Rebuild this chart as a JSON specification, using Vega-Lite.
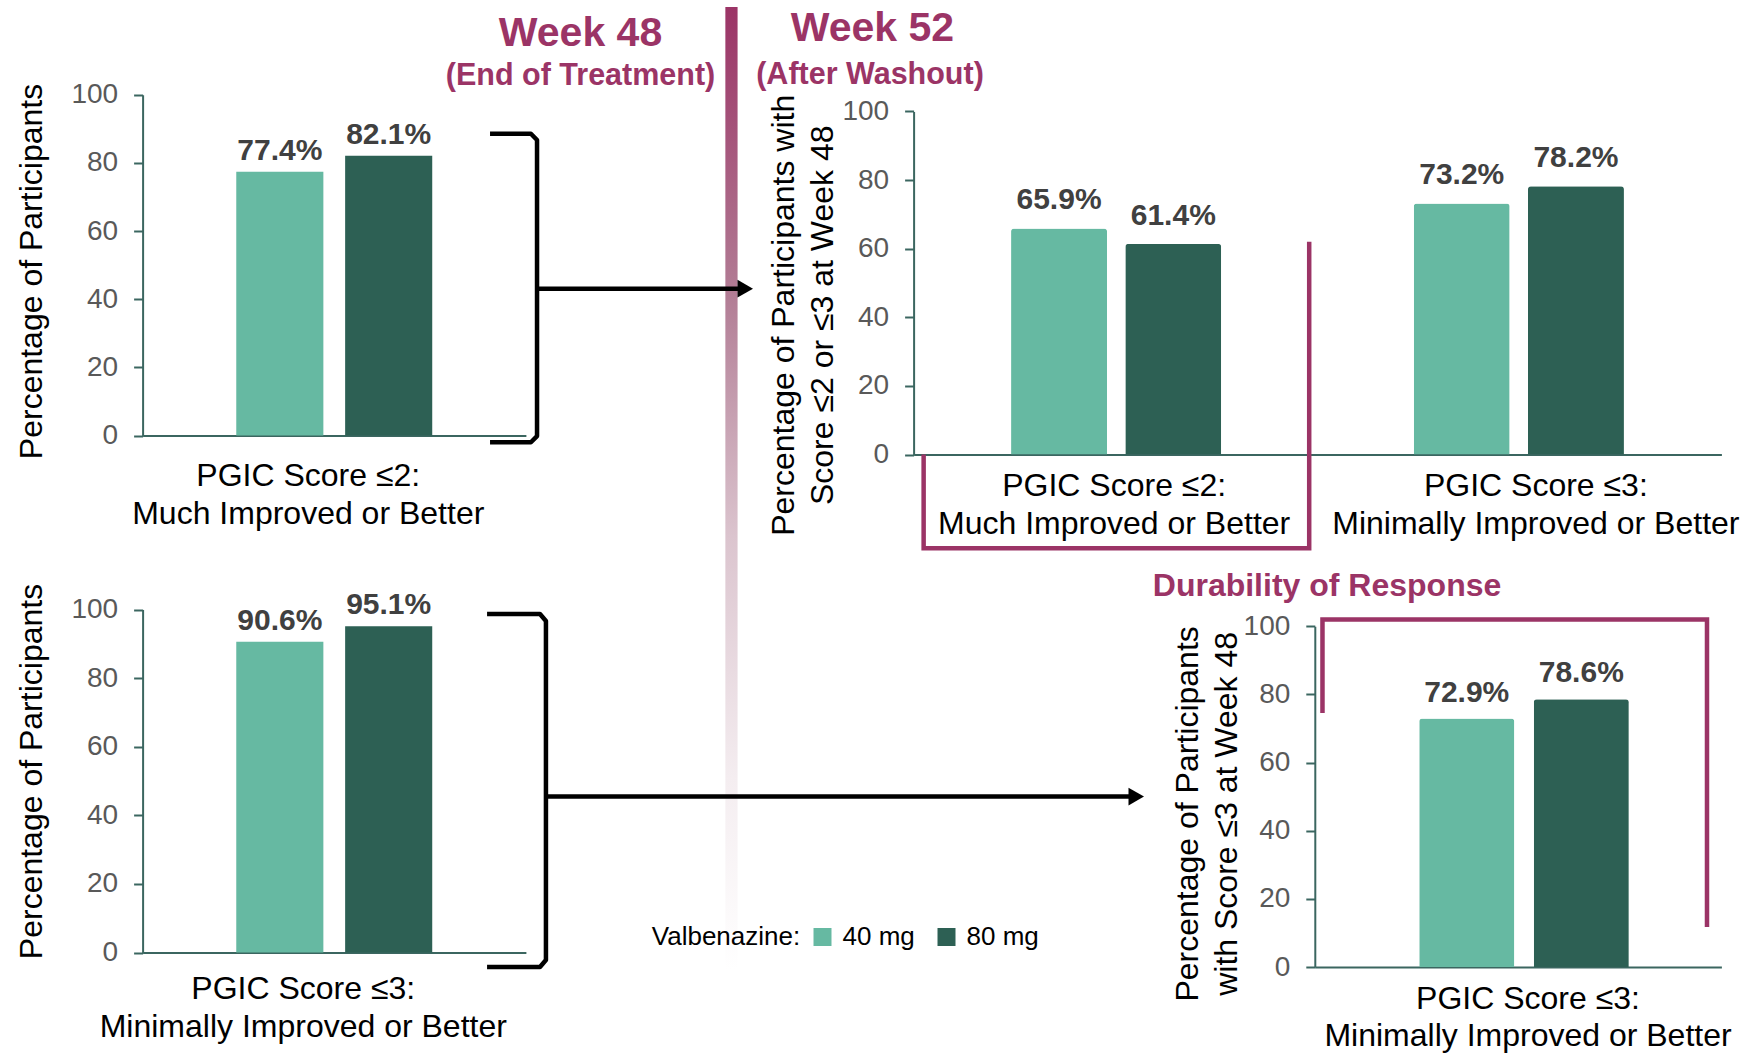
{
  "$schema": "https://vega.github.io/schema/vega-lite/v6.json",
  "width": 1747,
  "height": 1053,
  "autosize": {"type": "none"},
  "padding": 0,
  "background": "#ffffff",
  "config": {
    "view": {"stroke": null},
    "font": "Liberation Sans",
    "axis": {
      "grid": false,
      "domainColor": "#3B6660",
      "domainWidth": 2,
      "tickColor": "#3B6660",
      "tickWidth": 2,
      "labelFont": "Liberation Sans",
      "titleFont": "Liberation Sans",
      "titleFontWeight": "normal",
      "titleColor": "#000000",
      "labelLimit": 1000,
      "titleLimit": 1000,
      "labelOverlap": false
    },
    "axisX": {"ticks": false, "tickSize": 0, "labelAngle": 0, "labelFontSize": 32, "labelColor": "#000000", "labelLineHeight": 38, "labelBaseline": "top"},
    "axisY": {"tickSize": 9, "labelFontSize": 28, "labelColor": "#595959", "labelPadding": 16, "titleFontSize": 32, "titleAngle": -90, "titleBaseline": "middle", "titleAlign": "center", "titleLineHeight": 39}
  },
  "datasets": {
    "results": [
      {"panel": "wk48_le2", "group": "PGIC Score ≤2:|Much Improved or Better", "dose": "40 mg", "pct": 77.4},
      {"panel": "wk48_le2", "group": "PGIC Score ≤2:|Much Improved or Better", "dose": "80 mg", "pct": 82.1},
      {"panel": "wk48_le3", "group": "PGIC Score ≤3:|Minimally Improved or Better", "dose": "40 mg", "pct": 90.6},
      {"panel": "wk48_le3", "group": "PGIC Score ≤3:|Minimally Improved or Better", "dose": "80 mg", "pct": 95.1},
      {"panel": "wk52", "group": "PGIC Score ≤2:|Much Improved or Better", "dose": "40 mg", "pct": 65.9},
      {"panel": "wk52", "group": "PGIC Score ≤2:|Much Improved or Better", "dose": "80 mg", "pct": 61.4},
      {"panel": "wk52", "group": "PGIC Score ≤3:|Minimally Improved or Better", "dose": "40 mg", "pct": 73.2},
      {"panel": "wk52", "group": "PGIC Score ≤3:|Minimally Improved or Better", "dose": "80 mg", "pct": 78.2},
      {"panel": "durability", "group": "PGIC Score ≤3:|Minimally Improved or Better", "dose": "40 mg", "pct": 72.9},
      {"panel": "durability", "group": "PGIC Score ≤3:|Minimally Improved or Better", "dose": "80 mg", "pct": 78.6}
    ],
    "divider": [{"x": 41.52, "x2": 42.22, "y": 0.66, "y2": 92.12}],
    "brackets": [
      {"path": "wk48_le2", "step": 1, "x": 28.05, "y": 12.70},
      {"path": "wk48_le2", "step": 2, "x": 30.39, "y": 12.70},
      {"path": "wk48_le2", "step": 3, "x": 30.74, "y": 13.30},
      {"path": "wk48_le2", "step": 4, "x": 30.74, "y": 41.41},
      {"path": "wk48_le2", "step": 5, "x": 30.39, "y": 42.00},
      {"path": "wk48_le2", "step": 6, "x": 28.05, "y": 42.00},
      {"path": "wk48_le3", "step": 1, "x": 27.88, "y": 58.31},
      {"path": "wk48_le3", "step": 2, "x": 30.91, "y": 58.31},
      {"path": "wk48_le3", "step": 3, "x": 31.25, "y": 58.97},
      {"path": "wk48_le3", "step": 4, "x": 31.25, "y": 91.17},
      {"path": "wk48_le3", "step": 5, "x": 30.91, "y": 91.83},
      {"path": "wk48_le3", "step": 6, "x": 27.88, "y": 91.83},
      {"path": "to_wk52", "step": 1, "x": 30.74, "y": 27.41},
      {"path": "to_wk52", "step": 2, "x": 42.66, "y": 27.41},
      {"path": "to_durability", "step": 1, "x": 31.25, "y": 75.65},
      {"path": "to_durability", "step": 2, "x": 65.04, "y": 75.65}
    ],
    "arrowheads": [
      {"x": 42.66, "y": 27.41},
      {"x": 65.04, "y": 75.65}
    ],
    "frames": [
      {"path": "wk52_le2", "step": 1, "x": 52.87, "y": 43.17},
      {"path": "wk52_le2", "step": 2, "x": 52.87, "y": 52.06},
      {"path": "wk52_le2", "step": 3, "x": 74.94, "y": 52.06},
      {"path": "wk52_le2", "step": 4, "x": 74.94, "y": 22.96},
      {"path": "durability", "step": 1, "x": 75.70, "y": 67.71},
      {"path": "durability", "step": 2, "x": 75.70, "y": 58.83},
      {"path": "durability", "step": 3, "x": 97.71, "y": 58.83},
      {"path": "durability", "step": 4, "x": 97.71, "y": 88.03}
    ],
    "headings": [
      {"role": "week", "text": "Week 48", "x": 33.23, "y": 4.34},
      {"role": "week", "text": "Week 52", "x": 49.94, "y": 3.92},
      {"role": "phase", "text": "(End of Treatment)", "x": 33.23, "y": 8.04},
      {"role": "phase", "text": "(After Washout)", "x": 49.80, "y": 7.94},
      {"role": "section", "text": "Durability of Response", "x": 75.96, "y": 56.60},
      {"role": "lead", "text": "Valbenazine:", "x": 37.31, "y": 89.70}
    ]
  },
  "layer": [
    {
      "encoding": {
        "x": {"field": "x", "type": "quantitative", "scale": {"domain": [0, 100], "range": [0, 1747], "nice": false, "zero": false}, "axis": null},
        "y": {"field": "y", "type": "quantitative", "scale": {"domain": [0, 100], "range": [0, 1053], "nice": false, "zero": false}, "axis": null}
      },
      "layer": [
        {
          "data": {"name": "divider"},
          "mark": {
            "type": "rect",
            "color": {
              "gradient": "linear", "x1": 0, "y1": 0, "x2": 0, "y2": 1,
              "stops": [
                {"offset": 0, "color": "#9B3466"},
                {"offset": 0.3, "color": "#B27D95"},
                {"offset": 0.55, "color": "#DBC4CE"},
                {"offset": 0.8, "color": "#F4EDF0"},
                {"offset": 1, "color": "#FFFFFF"}
              ]
            }
          },
          "encoding": {"x2": {"field": "x2"}, "y2": {"field": "y2"}}
        },
        {
          "data": {"name": "brackets"},
          "mark": {"type": "line", "color": "#000000", "strokeWidth": 4.5, "strokeCap": "butt", "strokeJoin": "round"},
          "encoding": {"detail": {"field": "path", "type": "nominal"}, "order": {"field": "step", "type": "quantitative"}}
        },
        {
          "data": {"name": "frames"},
          "mark": {"type": "line", "color": "#9B3466", "strokeWidth": 4.5, "strokeCap": "butt", "strokeJoin": "miter"},
          "encoding": {"detail": {"field": "path", "type": "nominal"}, "order": {"field": "step", "type": "quantitative"}}
        },
        {
          "data": {"name": "arrowheads"},
          "mark": {"type": "point", "shape": "triangle-right", "size": 320, "filled": true, "color": "#000000", "opacity": 1, "strokeWidth": 0}
        },
        {
          "data": {"name": "headings"},
          "transform": [{"filter": "datum.role === 'week'"}],
          "mark": {"type": "text", "fontSize": 41, "fontWeight": "bold", "color": "#9B3466", "align": "center", "baseline": "alphabetic"},
          "encoding": {"text": {"field": "text"}}
        },
        {
          "data": {"name": "headings"},
          "transform": [{"filter": "datum.role === 'phase'"}],
          "mark": {"type": "text", "fontSize": 30.5, "fontWeight": "bold", "color": "#9B3466", "align": "center", "baseline": "alphabetic"},
          "encoding": {"text": {"field": "text"}}
        },
        {
          "data": {"name": "headings"},
          "transform": [{"filter": "datum.role === 'section'"}],
          "mark": {"type": "text", "fontSize": 32, "fontWeight": "bold", "color": "#9B3466", "align": "center", "baseline": "alphabetic"},
          "encoding": {"text": {"field": "text"}}
        },
        {
          "data": {"name": "headings"},
          "transform": [{"filter": "datum.role === 'lead'"}],
          "mark": {"type": "text", "fontSize": 26, "color": "#000000", "align": "left", "baseline": "alphabetic"},
          "encoding": {"text": {"field": "text"}}
        }
      ]
    },
    {
      "data": {"name": "results"},
      "transform": [{"filter": "datum.panel === 'wk48_le2'"}],
      "encoding": {
        "x": {"field": "group", "type": "nominal", "sort": null, "title": null,
          "scale": {"range": [142.6, 525.9], "paddingInner": 0, "paddingOuter": 0.478},
          "axis": {"orient": "bottom", "offset": -617.4, "labelExpr": "split(datum.label, '|')", "labelPadding": 25, "labelOffset": -26}},
        "xOffset": {"field": "dose", "type": "nominal", "scale": {"paddingInner": 0.2, "paddingOuter": 0}},
        "y": {"field": "pct", "type": "quantitative",
          "scale": {"domain": [0, 100], "range": [435.6, 94.7], "nice": false},
          "axis": {"orient": "left", "offset": -142.6, "values": [0, 20, 40, 60, 80, 100], "title": "Percentage of Participants", "titleX": -111.6, "titleY": 271}}
      },
      "layer": [
        {
          "mark": {"type": "bar"},
          "encoding": {
            "color": {"field": "dose", "type": "nominal",
              "scale": {"domain": ["40 mg", "80 mg"], "range": ["#66B9A2", "#2D6054"]},
              "legend": {"title": null, "orient": "none", "legendX": 809.5, "legendY": 924, "direction": "horizontal", "symbolType": "square", "symbolSize": 324, "symbolStrokeWidth": 0, "symbolOpacity": 1, "labelFontSize": 26, "labelColor": "#000000", "labelOffset": 7, "columnPadding": 18, "padding": 0}}
          }
        },
        {
          "mark": {"type": "text", "baseline": "alphabetic", "align": "center", "dy": -12, "fontSize": 30, "fontWeight": "bold", "color": "#404040", "text": {"expr": "format(datum.pct, '.1f') + '%'"}}
        }
      ]
    },
    {
      "data": {"name": "results"},
      "transform": [{"filter": "datum.panel === 'wk48_le3'"}],
      "encoding": {
        "x": {"field": "group", "type": "nominal", "sort": null, "title": null,
          "scale": {"range": [142.6, 525.9], "paddingInner": 0, "paddingOuter": 0.478},
          "axis": {"orient": "bottom", "offset": -100.4, "labelExpr": "split(datum.label, '|')", "labelPadding": 21, "labelOffset": -31}},
        "xOffset": {"field": "dose", "type": "nominal", "scale": {"paddingInner": 0.2, "paddingOuter": 0}},
        "y": {"field": "pct", "type": "quantitative",
          "scale": {"domain": [0, 100], "range": [952.6, 609.5], "nice": false},
          "axis": {"orient": "left", "offset": -142.6, "values": [0, 20, 40, 60, 80, 100], "title": "Percentage of Participants", "titleX": -111.6, "titleY": 771}}
      },
      "layer": [
        {
          "mark": {"type": "bar"},
          "encoding": {
            "color": {"field": "dose", "type": "nominal",
              "scale": {"domain": ["40 mg", "80 mg"], "range": ["#66B9A2", "#2D6054"]},
              "legend": {"title": null, "orient": "none", "legendX": 809.5, "legendY": 924, "direction": "horizontal", "symbolType": "square", "symbolSize": 324, "symbolStrokeWidth": 0, "symbolOpacity": 1, "labelFontSize": 26, "labelColor": "#000000", "labelOffset": 7, "columnPadding": 18, "padding": 0}}
          }
        },
        {
          "mark": {"type": "text", "baseline": "alphabetic", "align": "center", "dy": -12, "fontSize": 30, "fontWeight": "bold", "color": "#404040", "text": {"expr": "format(datum.pct, '.1f') + '%'"}}
        }
      ]
    },
    {
      "data": {"name": "results"},
      "transform": [{"filter": "datum.panel === 'wk52'"}],
      "encoding": {
        "x": {"field": "group", "type": "nominal", "sort": null, "title": null,
          "scale": {"range": [913.6, 1721.4], "paddingInner": 0.478, "paddingOuter": 0.242},
          "axis": {"orient": "bottom", "offset": -598.4, "labelExpr": "split(datum.label, '|')", "labelPadding": 16,
            "labelOffset": {"condition": {"test": "indexof(datum.value, 'Minimally') >= 0", "value": 17}, "value": -2}}},
        "xOffset": {"field": "dose", "type": "nominal", "scale": {"paddingInner": 0.16, "paddingOuter": 0}},
        "y": {"field": "pct", "type": "quantitative",
          "scale": {"domain": [0, 100], "range": [454.6, 111.4], "nice": false},
          "axis": {"orient": "left", "offset": -913.6, "values": [0, 20, 40, 60, 80, 100], "title": ["Percentage of Participants with", "Score ≤2 or ≤3 at Week 48"], "titleX": -130.6, "titleY": 314.8}}
      },
      "layer": [
        {
          "mark": {"type": "bar", "cornerRadiusEnd": 3},
          "encoding": {
            "color": {"field": "dose", "type": "nominal",
              "scale": {"domain": ["40 mg", "80 mg"], "range": ["#66B9A2", "#2D6054"]},
              "legend": {"title": null, "orient": "none", "legendX": 809.5, "legendY": 924, "direction": "horizontal", "symbolType": "square", "symbolSize": 324, "symbolStrokeWidth": 0, "symbolOpacity": 1, "labelFontSize": 26, "labelColor": "#000000", "labelOffset": 7, "columnPadding": 18, "padding": 0}}
          }
        },
        {
          "mark": {"type": "text", "baseline": "alphabetic", "align": "center", "dy": -19, "fontSize": 30, "fontWeight": "bold", "color": "#404040", "text": {"expr": "format(datum.pct, '.1f') + '%'"}}
        }
      ]
    },
    {
      "data": {"name": "results"},
      "transform": [{"filter": "datum.panel === 'durability'"}],
      "encoding": {
        "x": {"field": "group", "type": "nominal", "sort": null, "title": null,
          "scale": {"range": [1314.8, 1721.4], "paddingInner": 0, "paddingOuter": 0.47, "align": 0.53},
          "axis": {"orient": "bottom", "offset": -85.9, "labelExpr": "split(datum.label, '|')", "labelPadding": 16, "labelLineHeight": 37, "labelOffset": 4}},
        "xOffset": {"field": "dose", "type": "nominal", "scale": {"paddingInner": 0.17, "paddingOuter": 0}},
        "y": {"field": "pct", "type": "quantitative",
          "scale": {"domain": [0, 100], "range": [967.1, 626.2], "nice": false},
          "axis": {"orient": "left", "offset": -1314.8, "values": [0, 20, 40, 60, 80, 100], "title": ["Percentage of Participants", "with Score ≤3 at Week 48"], "titleX": -127.1, "titleY": 813.4}}
      },
      "layer": [
        {
          "mark": {"type": "bar", "cornerRadiusEnd": 3},
          "encoding": {
            "color": {"field": "dose", "type": "nominal",
              "scale": {"domain": ["40 mg", "80 mg"], "range": ["#66B9A2", "#2D6054"]},
              "legend": {"title": null, "orient": "none", "legendX": 809.5, "legendY": 924, "direction": "horizontal", "symbolType": "square", "symbolSize": 324, "symbolStrokeWidth": 0, "symbolOpacity": 1, "labelFontSize": 26, "labelColor": "#000000", "labelOffset": 7, "columnPadding": 18, "padding": 0}}
          }
        },
        {
          "mark": {"type": "text", "baseline": "alphabetic", "align": "center", "dy": -17, "fontSize": 30, "fontWeight": "bold", "color": "#404040", "text": {"expr": "format(datum.pct, '.1f') + '%'"}}
        }
      ]
    }
  ],
  "resolve": {
    "scale": {"x": "independent", "y": "independent", "xOffset": "independent"},
    "axis": {"x": "independent", "y": "independent"}
  }
}
